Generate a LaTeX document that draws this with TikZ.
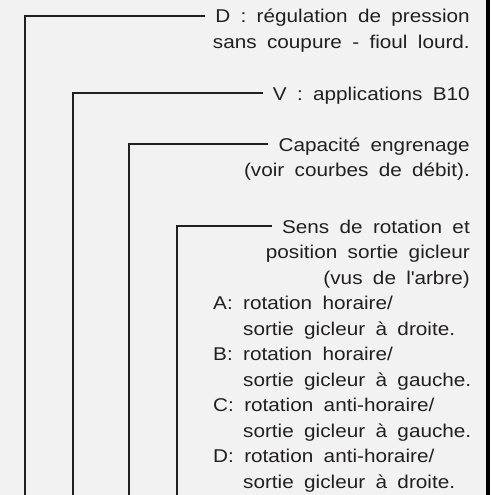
\documentclass[tikz,border=0pt]{standalone}
\usepackage{fontspec}
\setmainfont{Liberation Sans}[FakeStretch=1.12,WordSpace=1.8]
\usepackage{tikz}
\definecolor{panelgray}{HTML}{F2F2F2}
\definecolor{inkgray}{HTML}{231F20}
\tikzstyle{note}=[inner sep=0pt,text=inkgray,font=\fontsize{18.5}{25.5}\selectfont]
\tikzstyle{leader} = [draw=inkgray,line width=2pt,-]

\begin{document}
\begin{tikzpicture}[x=1pt,y=-1pt]
    % Panel and the dark strip on the right
    \fill[panelgray] (0,0) rectangle (490,495);
    \fill[black] (486,0) rectangle (490,495);
    \useasboundingbox (0,0) rectangle (490,495);
    % Right aligned headings
    \node[note,anchor=base east] (headD) at (470,23) {D : régulation de pression};
    \node[note,anchor=base east] (subD) at (470,48.5) {sans coupure - fioul lourd.};
    \node[note,anchor=base east] (headV) at (470,100) {V : applications B10};
    \node[note,anchor=base east] (headCap) at (470,151) {Capacité engrenage};
    \node[note,anchor=base east] (subCap) at (470,176.5) {(voir courbes de débit).};
    \node[note,anchor=base east] (headSens) at (470,233) {Sens de rotation et};
    \node[note,anchor=base east] (subSens) at (470,258.5) {position sortie gicleur};
    \node[note,anchor=base east] (viewSens) at (470,284) {(vus de l\textquotesingle arbre)};
    % Rotation codes, then their second lines
    \foreach \y/\name/\txt in {309.5/codeA/{A: rotation horaire/}, 360.5/codeB/{B: rotation horaire/}, 411.5/codeC/{C: rotation anti-horaire/}, 462.5/codeD/{D: rotation anti-horaire/}}
        \node[note,anchor=base west] (\name) at (213,\y) {\txt};
    \foreach \y/\name/\txt in {335/outA/{sortie gicleur à droite.}, 386/outB/{sortie gicleur à gauche.}, 437/outC/{sortie gicleur à gauche.}, 488/outD/{sortie gicleur à droite.}}
        \node[note,anchor=base west] (\name) at (243,\y) {\txt};
    % Free ends of the leaders at the bottom edge
    \foreach \name/\x in {footD/25, footV/73, footCap/129, footSens/177}
        \coordinate (\name) at (\x,497);
    % Leaders from each heading down
    \foreach \source/\dest in {headD/footD, headV/footV, headCap/footCap, headSens/footSens}
        \path[leader] ([xshift=-10pt,yshift=7pt]\source.base west) -| (\dest);
\end{tikzpicture}
\end{document}
